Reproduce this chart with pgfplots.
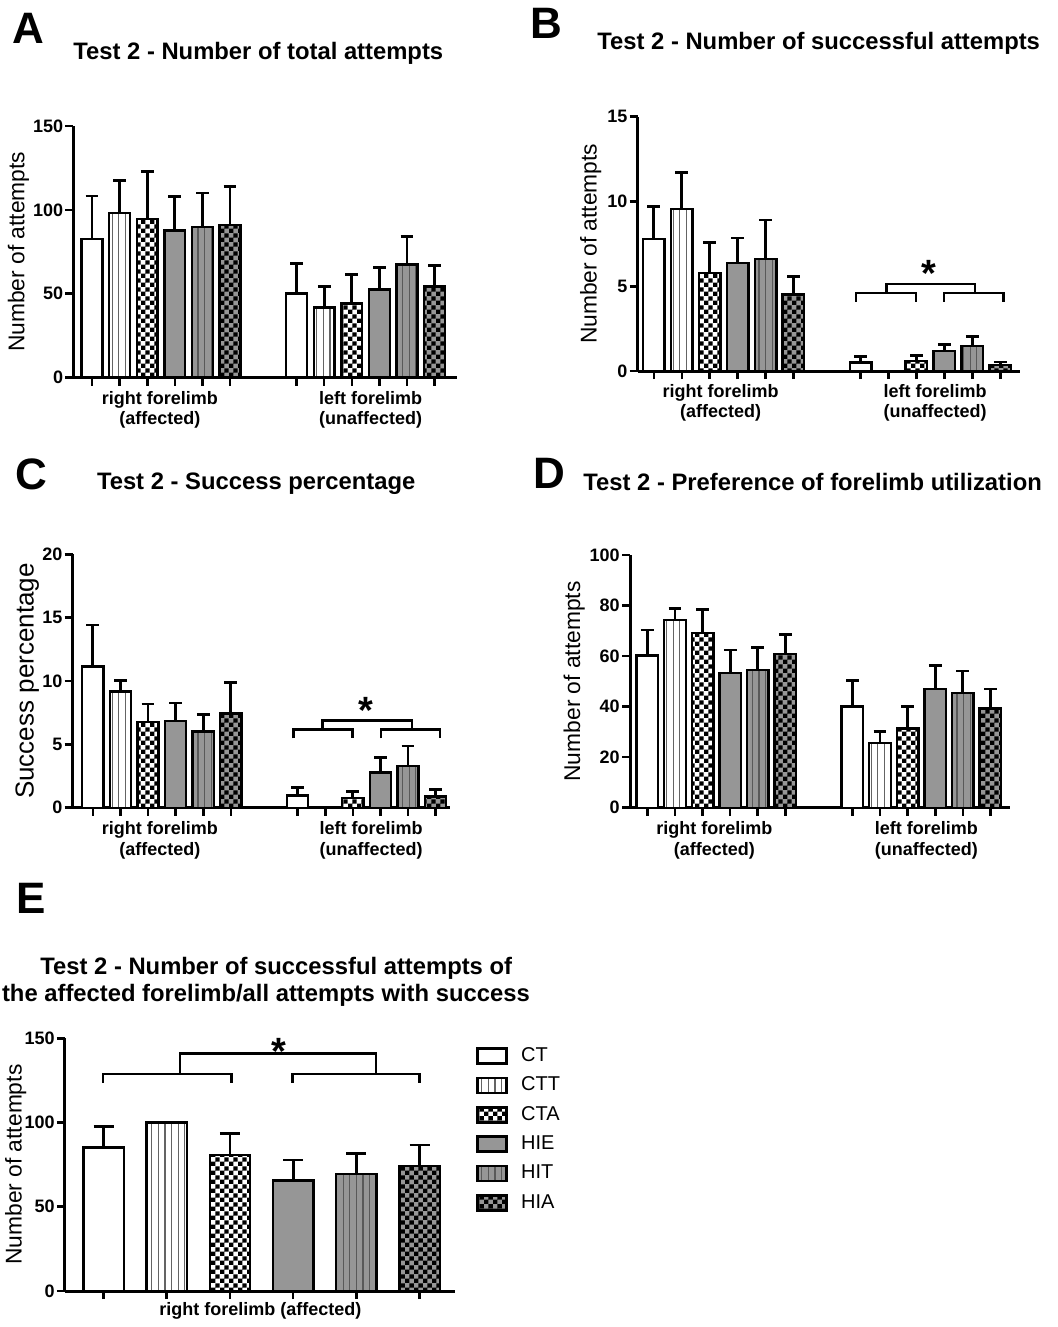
\documentclass[border=0pt]{standalone}
\usepackage{fontspec}
\setmainfont{Liberation Sans}
\usepackage{pgfplots}
\pgfplotsset{compat=1.18}
\usetikzlibrary{patterns,patterns.meta,calc}

\pgfdeclarepatternformonly{checker}{\pgfpointorigin}{\pgfqpoint{4.4pt}{4.4pt}}{\pgfqpoint{4.4pt}{4.4pt}}{%
  \pgfpathrectangle{\pgfpointorigin}{\pgfqpoint{2.2pt}{2.2pt}}%
  \pgfpathrectangle{\pgfqpoint{2.2pt}{2.2pt}}{\pgfqpoint{2.2pt}{2.2pt}}%
  \pgfusepath{fill}}

\definecolor{bargray}{RGB}{150,150,150}
\definecolor{linegray}{RGB}{100,100,100}

\tikzset{
  barbase/.style={draw=black, line width=1.2pt},
  sCT/.style={barbase, fill=white},
  sCTT/.style={barbase, preaction={fill=white}, pattern={Lines[angle=90,distance=3.3pt,line width=0.6pt]}, pattern color=linegray},
  sCTA/.style={barbase, preaction={fill=white}, pattern=checker, pattern color=black},
  sHIE/.style={barbase, fill=bargray},
  sHIT/.style={barbase, preaction={fill=bargray}, pattern={Lines[angle=90,distance=3.3pt,line width=0.6pt]}, pattern color=black!65},
  sHIA/.style={barbase, preaction={fill=bargray}, pattern=checker, pattern color=black},
  grp/.style={font=\fontsize{9}{10}\selectfont\bfseries, inner sep=0pt, anchor=base},
  star/.style={font=\fontsize{19}{19}\selectfont\bfseries, inner sep=0pt, anchor=north},
  brk/.style={line width=1.3pt, black},
  ttl/.style={font=\fontsize{11.9}{14}\selectfont\bfseries, inner sep=0pt, anchor=base west},
  plet/.style={font=\fontsize{22}{24}\selectfont\bfseries, inner sep=0pt, anchor=base west},
}
\pgfplotsset{
  panel/.style={
    scale only axis, anchor=south west,
    axis x line=bottom, axis y line=left,
    axis line style={-, line width=1.5pt},
    xmin=0, ymin=0, enlargelimits=false, clip=false,
    tick align=outside, major tick length=4pt,
    tick style={line width=1.3pt, black},
    xticklabels={},
    /pgf/number format/assume math mode=true,
    yticklabel style={font=\fontsize{9}{10}\selectfont\bfseries, inner sep=1pt},
    ylabel style={font=\fontsize{11.4}{13}\selectfont, anchor=base},
  },
  ebar/.style={only marks, mark=*, mark size=0pt, mark options={draw=none, fill=none}, forget plot,
    error bars/.cd, y dir=plus, y explicit,
    error bar style={line width=1.4pt, black},
    error mark options={rotate=90, mark size=#1, line width=1.4pt, black}},
  ebar/.default=3.2pt,
  legimg/.style={legend image code/.code={\draw[##1, line width=1.4pt] (0pt,-3.75pt) rectangle (14.35pt,3.75pt);}},
}

\begin{document}
\begin{tikzpicture}
\useasboundingbox (0,0) rectangle (529pt,-663.5pt);

% panel letters and titles
\node[plet] at (6pt,-21.65pt) {A};
\node[ttl] at (36.5pt,-29.65pt) {Test 2 - Number of total attempts};
\node[plet] at (265pt,-19.15pt) {B};
\node[ttl] at (298.5pt,-25pt) {Test 2 - Number of successful attempts};
\node[plet] at (7.5pt,-244.5pt) {C};
\node[ttl] at (48.3pt,-244.65pt) {Test 2 - Success percentage};
\node[plet] at (266.5pt,-244pt) {D};
\node[ttl] at (291.5pt,-245pt) {Test 2 - Preference of forelimb utilization};
\node[plet] at (8pt,-456.65pt) {E};
\node[ttl] at (20pt,-487pt) {Test 2 - Number of successful attempts of};
\node[ttl] at (0.83pt,-500.8pt) {the affected forelimb/all attempts with success};

% ---------------- A ----------------
\begin{axis}[panel, at={(36.75pt,-188.75pt)}, width=191.75pt, height=125.75pt,
  xmax=13.89, ymax=150, ytick={0,50,100,150},
  xtick={0.67,1.67,2.67,3.67,4.67,5.67,8.08,9.08,10.08,11.08,12.08,13.08},
  ylabel={Number of attempts},
  ylabel style={at={($(axis description cs:0,0.5)+(-24.6pt,0)$)}}]
\addplot[ybar, bar width=10.4pt, bar shift=0pt, sCT]  coordinates {(0.67,82.7) (8.08,50.0)};
\addplot[ybar, bar width=10.4pt, bar shift=0pt, sCTT] coordinates {(1.67,98.0) (9.08,41.7)};
\addplot[ybar, bar width=10.4pt, bar shift=0pt, sCTA] coordinates {(2.67,94.4) (10.08,44.2)};
\addplot[ybar, bar width=10.4pt, bar shift=0pt, sHIE] coordinates {(3.67,87.7) (11.08,52.6)};
\addplot[ybar, bar width=10.4pt, bar shift=0pt, sHIT] coordinates {(4.67,89.7) (12.08,67.4)};
\addplot[ybar, bar width=10.4pt, bar shift=0pt, sHIA] coordinates {(5.67,90.9) (13.08,54.2)};
\addplot[ebar] coordinates {
 (0.67,82.7) +- (0,25.6) (1.67,98.0) +- (0,19.4) (2.67,94.4) +- (0,28.4)
 (3.67,87.7) +- (0,20.4) (4.67,89.7) +- (0,20.4) (5.67,90.9) +- (0,23.2)
 (8.08,50.0) +- (0,17.9) (9.08,41.7) +- (0,12.8) (10.08,44.2) +- (0,17.1)
 (11.08,52.6) +- (0,13.1) (12.08,67.4) +- (0,16.7) (13.08,54.2) +- (0,12.8)};
\node[grp, yshift=-13.4pt] at (axis cs:3.13,0) {right forelimb};
\node[grp, yshift=-23.7pt] at (axis cs:3.13,0) {(affected)};
\node[grp, yshift=-13.4pt] at (axis cs:10.76,0) {left forelimb};
\node[grp, yshift=-23.7pt] at (axis cs:10.76,0) {(unaffected)};
\end{axis}

% ---------------- B ----------------
\begin{axis}[panel, at={(318.85pt,-185.5pt)}, width=191.15pt, height=127.15pt,
  xmax=13.70, ymax=15, ytick={0,5,10,15},
  xtick={0.58,1.58,2.58,3.58,4.58,5.58,7.99,8.99,9.99,10.99,11.99,12.99},
  ylabel={Number of attempts},
  ylabel style={at={($(axis description cs:0,0.5)+(-20.5pt,0)$)}}]
\addplot[ybar, bar width=10.8pt, bar shift=0pt, sCT]  coordinates {(0.58,7.77) (7.99,0.51)};
\addplot[ybar, bar width=10.8pt, bar shift=0pt, sCTT] coordinates {(1.58,9.54)};
\addplot[ybar, bar width=10.8pt, bar shift=0pt, sCTA] coordinates {(2.58,5.78) (9.99,0.59)};
\addplot[ybar, bar width=10.8pt, bar shift=0pt, sHIE] coordinates {(3.58,6.37) (10.99,1.18)};
\addplot[ybar, bar width=10.8pt, bar shift=0pt, sHIT] coordinates {(4.58,6.59) (11.99,1.49)};
\addplot[ybar, bar width=10.8pt, bar shift=0pt, sHIA] coordinates {(5.58,4.52) (12.99,0.35)};
\addplot[ebar] coordinates {
 (0.58,7.77) +- (0,1.93) (1.58,9.54) +- (0,2.16) (2.58,5.78) +- (0,1.79)
 (3.58,6.37) +- (0,1.48) (4.58,6.59) +- (0,2.32) (5.58,4.52) +- (0,1.06)
 (7.99,0.51) +- (0,0.34) (9.99,0.59) +- (0,0.31)
 (10.99,1.18) +- (0,0.37) (11.99,1.49) +- (0,0.53) (12.99,0.35) +- (0,0.18)};
\draw[brk] (7.82,4.09) -- (7.82,4.6) -- (9.97,4.6) -- (9.97,4.09);
\draw[brk] (10.98,4.09) -- (10.98,4.6) -- (13.1,4.6) -- (13.1,4.09);
\draw[brk] (8.92,4.6) -- (8.92,5.13) -- (12.09,5.13) -- (12.09,4.6);
\node[star] at (axis cs:10.44,6.55) {*};
\node[grp, yshift=-13.2pt] at (axis cs:2.97,0) {right forelimb};
\node[grp, yshift=-23pt] at (axis cs:2.97,0) {(affected)};
\node[grp, yshift=-13.2pt] at (axis cs:10.66,0) {left forelimb};
\node[grp, yshift=-23pt] at (axis cs:10.66,0) {(unaffected)};
\end{axis}

% ---------------- C ----------------
\begin{axis}[panel, at={(36.35pt,-403.85pt)}, width=188.65pt, height=126.7pt,
  xmax=13.67, ymax=20, ytick={0,5,10,15,20},
  xtick={0.73,1.73,2.73,3.73,4.73,5.73,8.15,9.15,10.15,11.15,12.15,13.15},
  ylabel={Success percentage},
  ylabel style={font=\fontsize{13}{15}\selectfont, at={($(axis description cs:0,0.5)+(-19.6pt,0)$)}}]
\addplot[ybar, bar width=10.6pt, bar shift=0pt, sCT]  coordinates {(0.73,11.13) (8.15,0.95)};
\addplot[ybar, bar width=10.6pt, bar shift=0pt, sCTT] coordinates {(1.73,9.16)};
\addplot[ybar, bar width=10.6pt, bar shift=0pt, sCTA] coordinates {(2.73,6.76) (10.15,0.77)};
\addplot[ybar, bar width=10.6pt, bar shift=0pt, sHIE] coordinates {(3.73,6.84) (11.15,2.79)};
\addplot[ybar, bar width=10.6pt, bar shift=0pt, sHIT] coordinates {(4.73,6.00) (12.15,3.29)};
\addplot[ybar, bar width=10.6pt, bar shift=0pt, sHIA] coordinates {(5.73,7.45) (13.15,0.87)};
\addplot[ebar] coordinates {
 (0.73,11.13) +- (0,3.29) (1.73,9.16) +- (0,0.89) (2.73,6.76) +- (0,1.42)
 (3.73,6.84) +- (0,1.42) (4.73,6.00) +- (0,1.37) (5.73,7.45) +- (0,2.42)
 (8.15,0.95) +- (0,0.65) (10.15,0.77) +- (0,0.50)
 (11.15,2.79) +- (0,1.18) (12.15,3.29) +- (0,1.58) (13.15,0.87) +- (0,0.58)};
\draw[brk] (7.99,5.48) -- (7.99,6.19) -- (10.14,6.19) -- (10.14,5.48);
\draw[brk] (11.17,5.48) -- (11.17,6.19) -- (13.31,6.19) -- (13.31,5.48);
\draw[brk] (9.06,6.19) -- (9.06,6.87) -- (12.30,6.87) -- (12.30,6.19);
\node[star] at (axis cs:10.64,8.76) {*};
\node[grp, yshift=-13.4pt] at (axis cs:3.16,0) {right forelimb};
\node[grp, yshift=-23.7pt] at (axis cs:3.16,0) {(affected)};
\node[grp, yshift=-13.4pt] at (axis cs:10.81,0) {left forelimb};
\node[grp, yshift=-23.7pt] at (axis cs:10.81,0) {(unaffected)};
\end{axis}

% ---------------- D ----------------
\begin{axis}[panel, at={(315pt,-403.85pt)}, width=190pt, height=126.35pt,
  xmax=13.77, ymax=100, ytick={0,20,40,60,80,100},
  xtick={0.63,1.63,2.63,3.63,4.63,5.63,8.06,9.06,10.06,11.06,12.06,13.06},
  ylabel={Number of attempts},
  ylabel style={at={($(axis description cs:0,0.5)+(-25pt,0)$)}}]
\addplot[ybar, bar width=10.8pt, bar shift=0pt, sCT]  coordinates {(0.63,60.2) (8.06,40.0)};
\addplot[ybar, bar width=10.8pt, bar shift=0pt, sCTT] coordinates {(1.63,74.4) (9.06,25.5)};
\addplot[ybar, bar width=10.8pt, bar shift=0pt, sCTA] coordinates {(2.63,69.1) (10.06,31.3)};
\addplot[ybar, bar width=10.8pt, bar shift=0pt, sHIE] coordinates {(3.63,53.2) (11.06,47.0)};
\addplot[ybar, bar width=10.8pt, bar shift=0pt, sHIT] coordinates {(4.63,54.5) (12.06,45.5)};
\addplot[ybar, bar width=10.8pt, bar shift=0pt, sHIA] coordinates {(5.63,60.9) (13.06,39.2)};
\addplot[ebar] coordinates {
 (0.63,60.2) +- (0,10.1) (1.63,74.4) +- (0,4.5) (2.63,69.1) +- (0,9.4)
 (3.63,53.2) +- (0,9.2) (4.63,54.5) +- (0,8.8) (5.63,60.9) +- (0,7.7)
 (8.06,40.0) +- (0,10.3) (9.06,25.5) +- (0,4.5) (10.06,31.3) +- (0,8.8)
 (11.06,47.0) +- (0,9.2) (12.06,45.5) +- (0,8.6) (13.06,39.2) +- (0,7.8)};
\node[grp, yshift=-13.4pt] at (axis cs:3.06,0) {right forelimb};
\node[grp, yshift=-23.7pt] at (axis cs:3.06,0) {(affected)};
\node[grp, yshift=-13.4pt] at (axis cs:10.74,0) {left forelimb};
\node[grp, yshift=-23.7pt] at (axis cs:10.74,0) {(unaffected)};
\end{axis}

% ---------------- E ----------------
\begin{axis}[panel, at={(32.5pt,-645.5pt)}, width=195pt, height=126.35pt,
  xmax=6.17, ymax=150, ytick={0,50,100,150},
  xtick={0.61,1.61,2.61,3.61,4.61,5.61},
  ylabel={Number of attempts},
  ylabel style={at={($(axis description cs:0,0.5)+(-21.65pt,0)$)}},
  legend style={at={(axis description cs:1,1)}, anchor=north west, xshift=10.45pt, yshift=-4.3pt,
    draw=none, fill=none, inner sep=0pt, row sep=5.75pt, column sep=6.65pt,
    font=\fontsize{10}{12}\selectfont, nodes={inner sep=0pt}},
  legend cell align=left]
\addplot[ybar, bar width=20.2pt, bar shift=0pt, sCT, legimg]  coordinates {(0.61,85.3)};
\addlegendentry{CT}
\addplot[ybar, bar width=20.2pt, bar shift=0pt, sCTT, legimg] coordinates {(1.61,100.0)};
\addlegendentry{CTT}
\addplot[ybar, bar width=20.2pt, bar shift=0pt, sCTA, legimg] coordinates {(2.61,80.6)};
\addlegendentry{CTA}
\addplot[ybar, bar width=20.2pt, bar shift=0pt, sHIE, legimg] coordinates {(3.61,65.7)};
\addlegendentry{HIE}
\addplot[ybar, bar width=20.2pt, bar shift=0pt, sHIT, legimg] coordinates {(4.61,69.5)};
\addlegendentry{HIT}
\addplot[ybar, bar width=20.2pt, bar shift=0pt, sHIA, legimg] coordinates {(5.61,74.2)};
\addlegendentry{HIA}
\addplot[ebar=5pt] coordinates {
 (0.61,85.3) +- (0,12.3) (2.61,80.6) +- (0,12.8)
 (3.61,65.7) +- (0,12.1) (4.61,69.5) +- (0,11.9) (5.61,74.2) +- (0,12.5)};
\draw[brk] (0.6,123.7) -- (0.6,128.7) -- (2.63,128.7) -- (2.63,123.7);
\draw[brk] (3.6,123.7) -- (3.6,128.7) -- (5.61,128.7) -- (5.61,123.7);
\draw[brk] (1.82,128.7) -- (1.82,140.9) -- (4.92,140.9) -- (4.92,128.7);
\node[star] at (axis cs:3.39,150.06) {*};
\node[grp, yshift=-12pt] at (axis cs:3.09,0) {right forelimb (affected)};
\end{axis}
\end{tikzpicture}
\end{document}
